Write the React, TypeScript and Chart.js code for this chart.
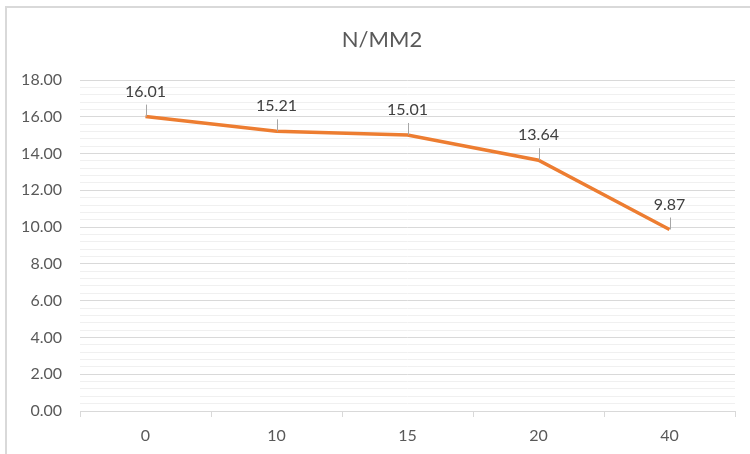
import React, { useEffect, useRef } from "react";
import { Chart, registerables } from "chart.js";

Chart.register(...registerables);

const titleText = "N/MM2";
const categories = ["0", "10", "15", "20", "40"];
const values = [16.01, 15.21, 15.01, 13.64, 9.87];
const yMin = 0;
const yMax = 18;
const yMajorStep = 2;
const yMinorStep = 0.4;

const FONT = "Lato, 'Open Sans', sans-serif";
const TEXT = "#595959";

const isMajor = (v: number) => Math.abs(v / yMajorStep - Math.round(v / yMajorStep)) < 1e-6;

const framePlugin = {
  id: "frame",
  beforeDraw(chart: any) {
    const ctx = chart.ctx;
    ctx.save();
    ctx.fillStyle = "#ffffff";
    ctx.fillRect(0, 0, chart.width, chart.height);
    ctx.fillStyle = "#d9d9d9";
    ctx.fillRect(5, 6, chart.width - 5, 2);
    ctx.fillRect(5, 6, 2, chart.height - 6);
    ctx.restore();
  },
  afterDraw(chart: any) {
    const ctx = chart.ctx;
    ctx.save();
    ctx.font = `22px ${FONT}`;
    ctx.fillStyle = TEXT;
    ctx.textAlign = "center";
    ctx.textBaseline = "middle";
    ctx.fillText(titleText, 382, 40);
    ctx.restore();
  },
};

const labelPlugin = {
  id: "pointLabels",
  afterDatasetsDraw(chart: any) {
    const ctx = chart.ctx;
    const meta = chart.getDatasetMeta(0);
    ctx.save();
    meta.data.forEach((pt: any, i: number) => {
      const x = pt.x;
      const y = pt.y;
      ctx.strokeStyle = "#a6a6a6";
      ctx.lineWidth = 1;
      ctx.beginPath();
      ctx.moveTo(Math.round(x) + 0.5, y - 12);
      ctx.lineTo(Math.round(x) + 0.5, y);
      ctx.stroke();
      ctx.font = `16px ${FONT}`;
      ctx.fillStyle = "#404040";
      ctx.textAlign = "center";
      ctx.textBaseline = "middle";
      ctx.fillText(values[i].toFixed(2), x, y - 25);
    });
    ctx.restore();
  },
};

export default function App() {
  const ref = useRef<HTMLCanvasElement>(null);
  useEffect(() => {
    if (!ref.current) return;
    const chart = new Chart(ref.current, {
      type: "line",
      data: {
        labels: categories,
        datasets: [
          {
            data: values,
            borderColor: "#ED7D31",
            backgroundColor: "#ED7D31",
            borderWidth: 3.5,
            pointRadius: 0,
            tension: 0,
            fill: false,
          },
        ],
      },
      options: {
        animation: false,
        responsive: true,
        maintainAspectRatio: false,
        layout: { padding: { top: 80, right: 15, left: 0, bottom: 0 } },
        plugins: {
          legend: { display: false },
          title: { display: false },
          tooltip: { enabled: false },
        },
        scales: {
          x: {
            type: "category",
            offset: true,
            afterFit(scale: any) {
              scale.height = 43;
            },
            grid: {
              offset: true,
              drawOnChartArea: false,
              drawTicks: true,
              tickLength: 6,
              color: "#d9d9d9",
            },
            border: { display: true, color: "#d9d9d9" },
            ticks: {
              color: TEXT,
              font: { family: FONT, size: 16 },
              padding: 9,
              maxRotation: 0,
            },
          },
          y: {
            min: yMin,
            max: yMax,
            afterFit(scale: any) {
              scale.width = 80;
            },
            grid: {
              drawTicks: false,
              color: (c: any) => (c.tick && isMajor(c.tick.value) ? "#d9d9d9" : "#f0f0f0"),
            },
            border: { display: false },
            ticks: {
              stepSize: yMinorStep,
              autoSkip: false,
              color: TEXT,
              font: { family: FONT, size: 16 },
              padding: 18,
              callback: (v: any) => (isMajor(Number(v)) ? Number(v).toFixed(2) : ""),
            },
          },
        },
      },
      plugins: [framePlugin, labelPlugin],
    });
    return () => chart.destroy();
  }, []);
  return (
    <div style={{ position: "absolute", left: 0, top: 0, width: 750, height: 454, background: "#fff" }}>
      <canvas ref={ref} />
    </div>
  );
}
